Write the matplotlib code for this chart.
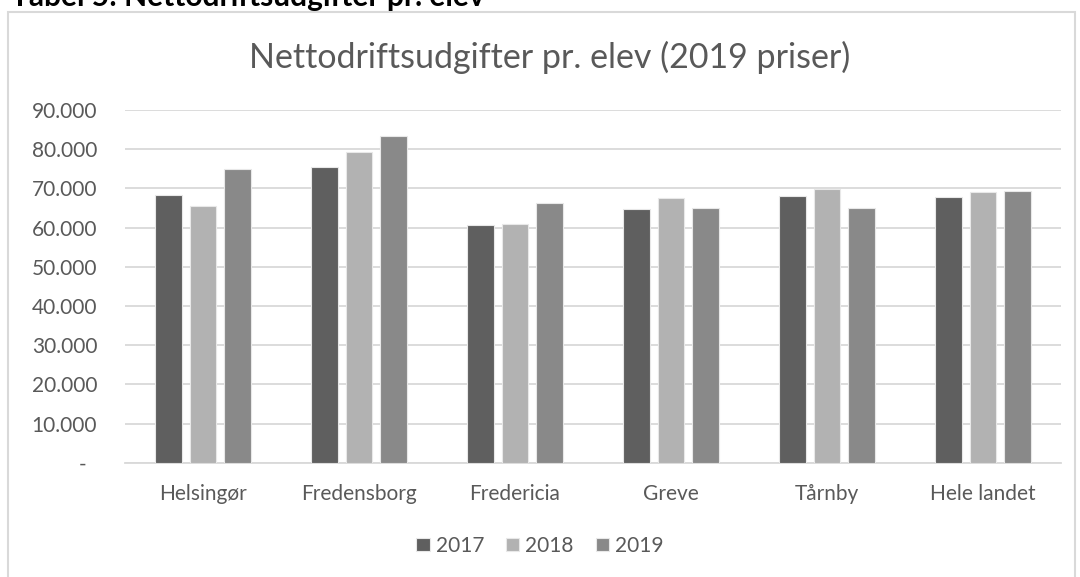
import matplotlib.pyplot as plt
import numpy as np
from matplotlib.patches import Rectangle

plt.rcParams['font.family'] = ['Lato', 'DejaVu Sans']

kommuner = ["Helsingør", "Fredensborg", "Fredericia", "Greve", "Tårnby", "Hele landet"]
aar = ["2017", "2018", "2019"]
v2017 = [68300, 75400, 60600, 64800, 68000, 67700]
v2018 = [65600, 79200, 61000, 67500, 69800, 69100]
v2019 = [74900, 83400, 66200, 65100, 64900, 69400]
farver = ["#5f5f5f", "#b2b2b2", "#898989"]
yticks = [0, 10000, 20000, 30000, 40000, 50000, 60000, 70000, 80000, 90000]

tekst = "#595959"
fig = plt.figure(figsize=(10.8, 5.77), dpi=100)

# chart border (box from the report)
fig.patches.append(Rectangle((8/1080, -0.05), 1067/1080, 1 - 12/577 + 0.05,
                             transform=fig.transFigure, fill=False,
                             edgecolor="#d9d9d9", linewidth=1.5))
fig.text(11/1080, 1 - 6/577, "Tabel 5: Nettodriftsudgifter pr. elev", fontsize=21.5,
         fontweight="bold", color="black", va="baseline", ha="left")

ax = fig.add_axes([125/1080, 114.3/577, 936/1080, 352.7/577])
x = np.arange(len(kommuner))
w = 0.173
step = 0.22
for i, vals in enumerate([v2017, v2018, v2019]):
    ax.bar(x + (i - 1) * step, vals, w, color=farver[i], edgecolor="#e8e8e8",
           linewidth=0.8, label=aar[i], zorder=3)

ax.set_xlim(-0.5, len(kommuner) - 0.5)
ax.set_ylim(0, 90000)
ax.set_yticks(yticks)
ax.set_yticklabels(["-  "] + ["{:,}".format(t).replace(",", ".") for t in yticks[1:]])
ax.set_xticks(x)
ax.set_xticklabels(kommuner)
ax.grid(axis="y", color="#d9d9d9", linewidth=1.3, zorder=0)
for s in ["top", "right", "left"]:
    ax.spines[s].set_visible(False)
ax.spines["bottom"].set_color("#d9d9d9")
ax.spines["bottom"].set_linewidth(1.3)
ax.tick_params(axis="both", length=0, labelsize=15, colors=tekst)
ax.tick_params(axis="y", pad=20)
ax.tick_params(axis="x", pad=15)

fig.text(550/1080, 1 - 68/577, "Nettodriftsudgifter pr. elev (2019 priser)", ha="center",
         va="baseline", fontsize=24.5, color=tekst)

fig.legend(loc="center", bbox_to_anchor=(0.5, 1 - 546/577), ncol=3, frameon=False,
           fontsize=15, labelcolor=tekst, handlelength=0.63, handleheight=0.63,
           handletextpad=0.29, columnspacing=1.06)

fig.savefig("out.png", dpi=100)
